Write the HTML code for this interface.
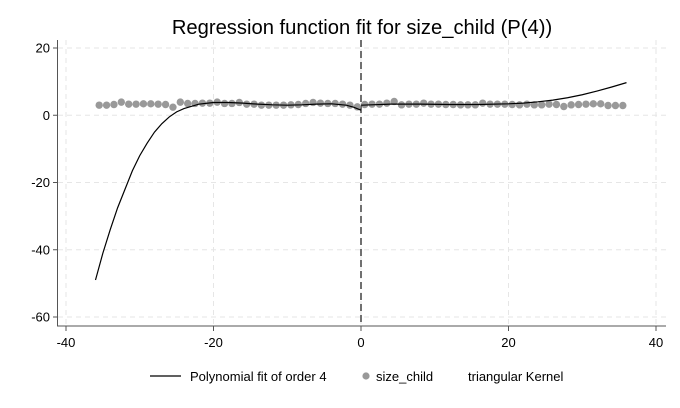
<!DOCTYPE html>
<html><head><meta charset="utf-8"><style>
body{margin:0;background:#fff;}
svg{display:block;font-family:"Liberation Sans",Arial,sans-serif;}
</style></head><body>
<svg id="chart" width="680" height="408">
<text x="362" y="34" text-anchor="middle" font-size="20.2" fill="#000">Regression function fit for size_child (P(4))</text>
<g id="grid"></g><g id="axes"></g><g id="marks"></g>
<g>
<line x1="150" y1="376" x2="181" y2="376" stroke="#000" stroke-width="1.2"/>
<text x="190" y="381" font-size="13">Polynomial fit of order 4</text>
<circle cx="366" cy="376" r="3.6" fill="#999"/>
<text x="376" y="381" font-size="13">size_child</text>
<text x="468" y="381" font-size="13">triangular Kernel</text>
</g>
</svg>
<script>
const xTicks=[-40,-20,0,20,40];
const yTicks=[20,0,-20,-40,-60];
const binsLeft=[-35.5,-34.5,-33.5,-32.5,-31.5,-30.5,-29.5,-28.5,-27.5,-26.5,-25.5,-24.5,-23.5,-22.5,-21.5,-20.5,-19.5,-18.5,-17.5,-16.5,-15.5,-14.5,-13.5,-12.5,-11.5,-10.5,-9.5,-8.5,-7.5,-6.5,-5.5,-4.5,-3.5,-2.5,-1.5,-0.5];
const valsLeft=[3.0,3.0,3.2,3.9,3.3,3.3,3.4,3.4,3.3,3.2,2.4,3.9,3.5,3.5,3.6,3.6,3.9,3.5,3.5,3.8,3.3,3.3,3.0,3.0,3.0,3.0,3.1,3.2,3.5,3.8,3.6,3.5,3.5,3.3,3.0,2.5];
const binsRight=[0.5,1.5,2.5,3.5,4.5,5.5,6.5,7.5,8.5,9.5,10.5,11.5,12.5,13.5,14.5,15.5,16.5,17.5,18.5,19.5,20.5,21.5,22.5,23.5,24.5,25.5,26.5,27.5,28.5,29.5,30.5,31.5,32.5,33.5,34.5,35.5];
const valsRight=[3.2,3.3,3.3,3.6,4.1,3.1,3.3,3.3,3.6,3.3,3.3,3.2,3.2,3.1,3.1,3.1,3.6,3.3,3.3,3.3,3.2,3.1,3.3,3.1,3.1,3.3,3.2,2.6,3.1,3.2,3.3,3.4,3.4,2.9,2.9,2.9];
const fitXLeft=[-36,-35,-34,-33,-32,-31,-30,-29,-28,-27,-26,-25,-24,-22,-20,-18,-16,-14,-12,-10,-8,-6,-4,-2,-1,0];
const fitYLeft=[-49,-41,-34,-27.5,-22,-16.5,-12,-8.3,-5,-2.5,-0.5,1,2,3.3,3.8,3.8,3.6,3.3,3.1,3.0,3.1,3.3,3.4,3.0,2.4,1.5];
const fitXRight=[0,4,8,12,16,20,22,24,26,28,30,32,34,36];
const fitYRight=[3.0,3.3,3.3,3.2,3.2,3.4,3.6,4.0,4.5,5.2,6.1,7.2,8.4,9.7];
const NS="http://www.w3.org/2000/svg";
const X=v=>361+v*7.375, Y=v=>115.25-v*3.3625;
const grid=document.getElementById('grid'),axes=document.getElementById('axes'),marks=document.getElementById('marks');
function mk(tag,attrs,parent){const e=document.createElementNS(NS,tag);for(const k in attrs)e.setAttribute(k,attrs[k]);parent.appendChild(e);return e;}
xTicks.forEach(t=>{
 const g=mk('line',{x1:X(t),x2:X(t),y1:40,y2:326,stroke:'#e6e6e6','stroke-dasharray':'5,4'},grid);
 
 
 const tk=mk('line',{x1:X(t),x2:X(t),y1:326,y2:331,stroke:'#555'},axes);
 
 
 const tx=mk('text',{x:X(t),y:347,'text-anchor':'middle','font-size':'13'},axes);tx.textContent=t;
 
 
});
yTicks.forEach(t=>{
 const g=mk('line',{x1:58,x2:666,y1:Y(t),y2:Y(t),stroke:'#e6e6e6','stroke-dasharray':'5,4'},grid);
 
 
 const tk=mk('line',{x1:53,x2:58,y1:Y(t),y2:Y(t),stroke:'#555'},axes);
 
 
 const tx=mk('text',{x:50,y:Y(t)+4.5,'text-anchor':'end','font-size':'13'},axes);tx.textContent=t;
 
 
});
const ya=mk('line',{x1:57.5,x2:57.5,y1:40,y2:326.5,stroke:'#555'},axes);


const xa=mk('line',{x1:57,x2:666,y1:326,y2:326,stroke:'#555'},axes);


const cut=mk('line',{x1:X(0),x2:X(0),y1:40,y2:326,stroke:'#111','stroke-dasharray':'7,4','stroke-width':1.2},marks);


function dots(bx,vy){bx.forEach((b,i)=>{const c=mk('circle',{cx:X(b),cy:Y(vy[i]),r:3.7,fill:'#999'},marks);
 
 });}
dots(binsLeft,valsLeft);dots(binsRight,valsRight);
function fit(xs,ys,name){const p=mk('polyline',{points:xs.map((x,i)=>X(x)+','+Y(ys[i])).join(' '),fill:'none',stroke:'#000','stroke-width':1.2},marks);
 
 }
fit(fitXLeft,fitYLeft,'fit-line-left');fit(fitXRight,fitYRight,'fit-line-right');
</script>
</body></html>
